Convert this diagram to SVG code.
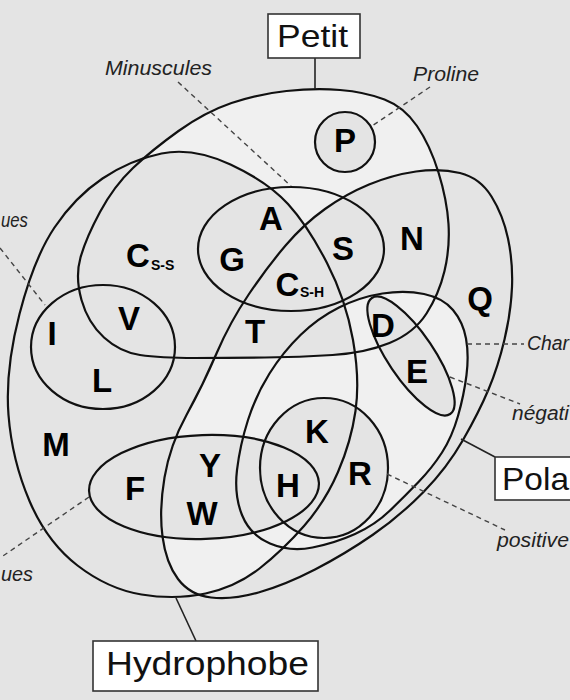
<svg xmlns="http://www.w3.org/2000/svg" xmlns:xlink="http://www.w3.org/1999/xlink" width="570" height="700" viewBox="0 0 570 700">
<style>
.set{fill:none;stroke:#111;stroke-width:2.2}
.aa{font-family:"Liberation Sans",Arial,sans-serif;font-weight:bold;font-size:33px;fill:#000;text-anchor:middle}
.sub{font-family:"Liberation Sans",Arial,sans-serif;font-weight:bold;font-size:14px;fill:#000}
.lbl{font-family:"Liberation Sans",Arial,sans-serif;font-style:italic;font-size:20px;fill:#222}
.dash{stroke:#444;stroke-width:1.4;stroke-dasharray:5 4;fill:none}
.lead{stroke:#222;stroke-width:1.6;fill:none}
.box{fill:#fff;stroke:#333;stroke-width:1.6}
.title{font-family:"Liberation Sans",Arial,sans-serif;font-size:32px;fill:#111}
</style>
<defs>
<path id="hydroP" d="M 230.5,164.5 Q 268,182 288,204 Q 308,226 327,263 Q 346,300 353,340 Q 360,380 355.5,411 Q 351,442 338,472 Q 325,502 304,526 Q 283,550 259.5,568.5 Q 236,587 205.5,593.5 Q 175,600 141.5,594.5 Q 108,589 77.5,565.5 Q 47,542 29.5,501 Q 12,460 8.5,415 Q 5,370 19.5,314 Q 34,258 54.5,227.5 Q 75,197 102.5,178.5 Q 130,160 161.5,153.5 Q 193,147 230.5,164.5 Z"/>
<path id="polarP" d="M 460,173 Q 480,178 491.5,196.5 Q 503,215 508,238.5 Q 513,262 512,287 Q 511,312 504.5,339.5 Q 498,367 488.5,389.5 Q 479,412 463,440 Q 447,468 423.5,492 Q 400,516 372.5,535 Q 345,554 315,569.5 Q 285,585 258.5,592.5 Q 232,600 211,597.5 Q 190,595 178,579 Q 166,563 162.5,536.5 Q 159,510 164.5,477.5 Q 170,445 186.5,415 Q 203,385 216.5,353.5 Q 230,322 249,294 Q 268,266 286,245 Q 304,224 325,209 Q 346,194 369,184.5 Q 392,175 416,171.5 Q 440,168 460,173 Z"/>
<path id="smallP" d="M 340,90 Q 365,92 384.5,99.5 Q 404,107 417,126 Q 430,145 438.5,172.5 Q 447,200 448.5,224 Q 450,248 444.5,271 Q 439,294 426.5,313.5 Q 414,333 389.5,343 Q 365,353 332.5,355 Q 300,357 265,357.5 Q 230,358 195,358 Q 160,358 140,355 Q 120,352 104,337.5 Q 88,323 81.5,300 Q 75,277 80.5,257.5 Q 86,238 100,212 Q 114,186 133,168 Q 152,150 178.5,131 Q 205,112 231.5,103 Q 258,94 286.5,91 Q 315,88 340,90 Z"/>
<path id="chargedP" d="M 424,294 Q 443,298 453,310 Q 463,322 466,338.5 Q 469,355 466.5,375 Q 464,395 458,416 Q 452,437 442,452.5 Q 432,468 418.5,482 Q 405,496 390,510.5 Q 375,525 355,534 Q 335,543 312.5,547.5 Q 290,552 270,543.5 Q 250,535 242,515 Q 234,495 237,470 Q 240,445 248,420 Q 256,395 269.5,373.5 Q 283,352 300.5,335 Q 318,318 339,307.5 Q 360,297 382.5,293.5 Q 405,290 424,294 Z"/>
<ellipse id="tinyP" cx="291" cy="249" rx="93" ry="62"/>
<ellipse id="aliP" cx="103" cy="347" rx="72" ry="62"/>
<ellipse id="aroP" cx="204" cy="487" rx="115" ry="52" transform="rotate(-2 204 487)"/>
<ellipse id="posP" cx="324" cy="468" rx="64" ry="70"/>
<ellipse id="negP" cx="411" cy="356" rx="70" ry="23" transform="rotate(56 411 356)"/>
<circle id="proP" cx="345" cy="142" r="30"/>
<clipPath id="cPolar"><use xlink:href="#polarP"/></clipPath>
<clipPath id="cHydro"><use xlink:href="#hydroP"/></clipPath>
<mask id="mSmall" maskUnits="userSpaceOnUse" x="0" y="0" width="570" height="700">
<use xlink:href="#smallP" fill="#fff"/>
<use xlink:href="#hydroP" fill="#000"/>
<use xlink:href="#polarP" fill="#000"/>
<use xlink:href="#proP" fill="#000"/>
</mask>
<mask id="mHP" maskUnits="userSpaceOnUse" x="0" y="0" width="570" height="700">
<use xlink:href="#hydroP" fill="#fff" clip-path="url(#cPolar)"/>
<use xlink:href="#smallP" fill="#000"/>
<use xlink:href="#aroP" fill="#000"/>
<use xlink:href="#posP" fill="#000"/>
</mask>
<mask id="mCh" maskUnits="userSpaceOnUse" x="0" y="0" width="570" height="700">
<use xlink:href="#chargedP" fill="#fff"/>
<use xlink:href="#posP" fill="#000"/>
<use xlink:href="#negP" fill="#000"/>
<use xlink:href="#aroP" fill="#000"/>
<use xlink:href="#smallP" fill="#000" clip-path="url(#cHydro)"/>
</mask>
</defs>
<rect x="0" y="0" width="570" height="700" fill="#e4e4e4"/>
<g id="shading">
<rect x="0" y="0" width="570" height="700" fill="#f0f0f0" mask="url(#mSmall)"/>
<rect x="0" y="0" width="570" height="700" fill="#f0f0f0" mask="url(#mHP)"/>
<rect x="0" y="0" width="570" height="700" fill="#f0f0f0" mask="url(#mCh)"/>
</g>
<g id="set-hydrophobe"><use xlink:href="#hydroP" class="set"/></g>
<g id="set-polaire"><use xlink:href="#polarP" class="set"/></g>
<g id="set-petit"><use xlink:href="#smallP" class="set"/></g>
<g id="set-charges"><use xlink:href="#chargedP" class="set"/></g>
<g id="set-minuscules"><use xlink:href="#tinyP" class="set"/></g>
<g id="set-aliphatiques"><use xlink:href="#aliP" class="set"/></g>
<g id="set-aromatiques"><use xlink:href="#aroP" class="set"/></g>
<g id="set-positifs"><use xlink:href="#posP" class="set"/></g>
<g id="set-negatifs"><use xlink:href="#negP" class="set"/></g>
<g id="set-proline"><use xlink:href="#proP" class="set"/></g>
<g id="aa-P"><text class="aa" x="345" y="152">P</text></g>
<g id="aa-A"><text class="aa" x="271" y="230">A</text></g>
<g id="aa-G"><text class="aa" x="232" y="271">G</text></g>
<g id="aa-S"><text class="aa" x="343" y="260">S</text></g>
<g id="aa-CSH"><text class="aa" x="287.5" y="296">C</text><text class="sub" x="300" y="297">S-H</text></g>
<g id="aa-N"><text class="aa" x="412" y="250">N</text></g>
<g id="aa-T"><text class="aa" x="255" y="343">T</text></g>
<g id="aa-D"><text class="aa" x="383" y="337">D</text></g>
<g id="aa-E"><text class="aa" x="417" y="383">E</text></g>
<g id="aa-Q"><text class="aa" x="480" y="310">Q</text></g>
<g id="aa-CSS"><text class="aa" x="138" y="267">C</text><text class="sub" x="151" y="270">S-S</text></g>
<g id="aa-V"><text class="aa" x="129" y="330">V</text></g>
<g id="aa-I"><text class="aa" x="52" y="345">I</text></g>
<g id="aa-L"><text class="aa" x="102" y="392">L</text></g>
<g id="aa-M"><text class="aa" x="56" y="456">M</text></g>
<g id="aa-Y"><text class="aa" x="210" y="477">Y</text></g>
<g id="aa-F"><text class="aa" x="135" y="500">F</text></g>
<g id="aa-W"><text class="aa" x="202" y="525">W</text></g>
<g id="aa-H"><text class="aa" x="288" y="497">H</text></g>
<g id="aa-K"><text class="aa" x="317" y="443">K</text></g>
<g id="aa-R"><text class="aa" x="360" y="485">R</text></g>
<g id="connectors">
<line class="lead" x1="315" y1="58" x2="315" y2="89"/>
<line class="lead" x1="196" y1="641" x2="176" y2="598"/>
<line class="lead" x1="461" y1="439" x2="495" y2="457"/>
<line class="dash" x1="178" y1="82" x2="291" y2="186"/>
<line class="dash" x1="430" y1="87" x2="372" y2="126"/>
<line class="dash" x1="0" y1="248" x2="45" y2="305"/>
<line class="dash" x1="89" y1="497" x2="0" y2="558"/>
<line class="dash" x1="467" y1="344" x2="524" y2="344"/>
<line class="dash" x1="450" y1="377" x2="520" y2="404"/>
<line class="dash" x1="387" y1="474" x2="505" y2="530"/>
</g>
<g id="label-minuscules"><text class="lbl" x="105" y="75" textLength="107" lengthAdjust="spacingAndGlyphs">Minuscules</text></g>
<g id="label-proline"><text class="lbl" x="413" y="81" textLength="66" lengthAdjust="spacingAndGlyphs">Proline</text></g>
<g id="label-aliphatiques"><text class="lbl" x="1" y="227" textLength="27" lengthAdjust="spacingAndGlyphs">ues</text></g>
<g id="label-aromatiques"><text class="lbl" x="1" y="581" textLength="32" lengthAdjust="spacingAndGlyphs">ues</text></g>
<g id="label-charges"><text class="lbl" x="527" y="350" textLength="42" lengthAdjust="spacingAndGlyphs">Char</text></g>
<g id="label-negatifs"><text class="lbl" x="512" y="420" textLength="57" lengthAdjust="spacingAndGlyphs">négati</text></g>
<g id="label-positifs"><text class="lbl" x="497" y="547" textLength="72" lengthAdjust="spacingAndGlyphs">positive</text></g>
<g id="box-petit"><rect class="box" x="268" y="14" width="92" height="44"/><text class="title" x="277" y="47" textLength="71" lengthAdjust="spacingAndGlyphs">Petit</text></g>
<g id="box-hydrophobe"><rect class="box" x="93" y="641" width="225" height="50"/><text class="title" x="106" y="675" style="font-size:34px" textLength="203" lengthAdjust="spacingAndGlyphs">Hydrophobe</text></g>
<g id="box-polaire"><rect class="box" x="495" y="457" width="90" height="43"/><text class="title" x="502" y="490" textLength="67" lengthAdjust="spacingAndGlyphs">Pola</text></g>
</svg>
